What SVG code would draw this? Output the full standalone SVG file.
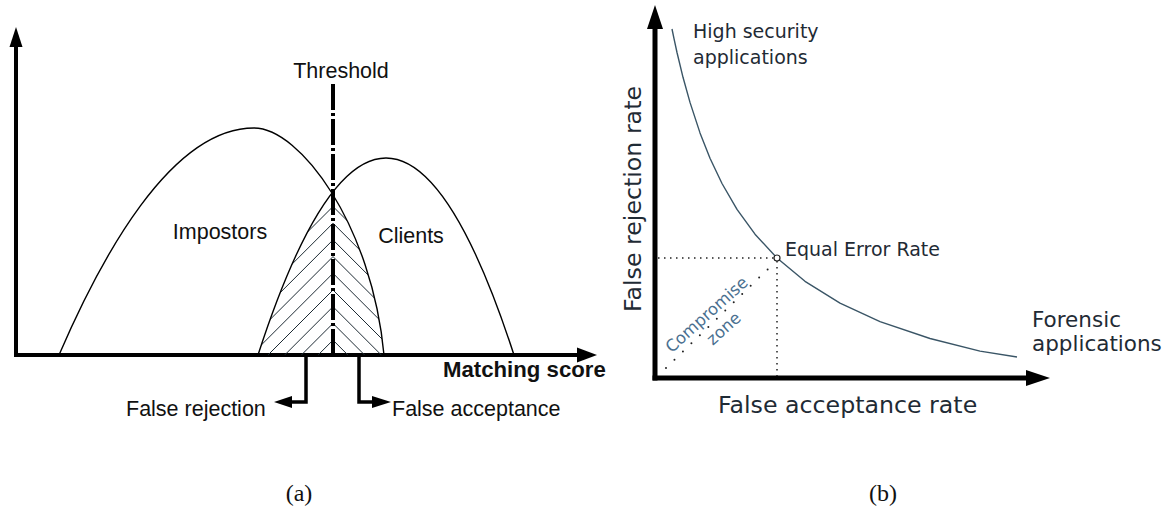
<svg xmlns="http://www.w3.org/2000/svg" width="1171" height="508" viewBox="0 0 1171 508">
<defs>
<style>
.axis{stroke:#000;fill:none;stroke-linecap:butt}
.head{fill:#000;stroke:none}
.curveA{stroke:#000;stroke-width:1.4;fill:none}
.hatch{stroke:#1d2a33;stroke-width:1}
.ta{font-family:"Liberation Sans",Arial,sans-serif;font-size:21.5px;fill:#111}
.tb{font-family:"DejaVu Sans",sans-serif;fill:#1f2b35}
.cz{font-family:"DejaVu Sans",sans-serif;font-size:16.5px;fill:#4a7090}
.cap{font-family:"Liberation Serif","Times New Roman",serif;font-size:24px;fill:#111}
.dot{stroke:#222;stroke-width:1.5;fill:none;stroke-dasharray:1.5 4.5}
</style>
<clipPath id="clipClients"><path d="M258,355 Q386,-39 514,355 Z"/></clipPath>
<clipPath id="clipImpostors"><path d="M59,355 C100,260 170,128 254,128 C300,128 372,225 384,355 Z"/></clipPath>
</defs>
<rect width="1171" height="508" fill="#fff"/>

<!-- Panel (a) -->
<g id="a-axes">
<line class="axis" x1="16" y1="45" x2="16" y2="357" stroke-width="4"/>
<polygon class="head" points="16,27 9.5,47 22.5,47"/>
<line class="axis" x1="14" y1="355" x2="579" y2="355" stroke-width="4"/>
<polygon class="head" points="597,355 577,347.5 577,362.5"/>
</g>
<g id="a-hatch">
<g clip-path="url(#clipClients)">
<path class="hatch" d="M333,206.5 l-150,150 M333,223.2 l-150,150 M333,239.9 l-150,150 M333,256.6 l-150,150 M333,273.3 l-150,150 M333,290 l-150,150 M333,306.7 l-150,150 M333,323.4 l-150,150 M333,340.1 l-150,150"/>
</g>
<g clip-path="url(#clipImpostors)">
<path class="hatch" d="M333,206.5 l150,150 M333,223.2 l150,150 M333,239.9 l150,150 M333,256.6 l150,150 M333,273.3 l150,150 M333,290 l150,150 M333,306.7 l150,150 M333,323.4 l150,150 M333,340.1 l150,150"/>
</g>
</g>
<g id="impostors">
<path class="curveA" d="M59,355 C100,260 170,128 254,128 C300,128 372,225 384,355"/>
<text class="ta" x="220" y="239" text-anchor="middle">Impostors</text>
</g>
<g id="clients">
<path class="curveA" d="M258,355 Q386,-39 514,355"/>
<text class="ta" x="411" y="243" text-anchor="middle">Clients</text>
</g>
<g id="threshold">
<line x1="333" y1="84" x2="333" y2="355" stroke="#000" stroke-width="4" stroke-dasharray="26 3 3 3"/>
<text class="ta" x="341" y="78" text-anchor="middle">Threshold</text>
</g>
<g id="matching-score">
<text class="ta" x="443" y="377" style="font-weight:bold;font-size:22.2px">Matching score</text>
</g>
<g id="connectors-a">
<polyline points="306,355 306,402 289,402" fill="none" stroke="#000" stroke-width="3.5"/>
<polygon class="head" points="274,402 292,396 292,408"/>
<polyline points="359,355 359,402 373,402" fill="none" stroke="#000" stroke-width="3.5"/>
<polygon class="head" points="391,402 372,396 372,408"/>
</g>
<g id="false-rejection">
<text class="ta" x="126" y="416">False rejection</text>
</g>
<g id="false-acceptance">
<text class="ta" x="392" y="416">False acceptance</text>
</g>
<text class="cap" x="299" y="501" text-anchor="middle">(a)</text>

<!-- Panel (b) -->
<g id="b-axes">
<line class="axis" x1="655" y1="26" x2="655" y2="380.5" stroke-width="5"/>
<polygon class="head" points="655,5 647,29 663,29"/>
<line class="axis" x1="652.5" y1="378" x2="1030" y2="378" stroke-width="5"/>
<polygon class="head" points="1050,378 1026,370 1026,386"/>
</g>
<g id="b-guides">
<line class="dot" x1="658" y1="258" x2="774" y2="258"/>
<line class="dot" x1="777" y1="261" x2="777" y2="376"/>
<line x1="666" y1="368" x2="768" y2="269" stroke="#222" stroke-width="2" stroke-linecap="round" stroke-dasharray="0 11.8"/>
</g>
<g id="det-curve">
<polyline points="672,29 674,38.7 677,52.5 683,77.3 690,102.4 700,132.9 710,158.2 722,183.5 737,209.4 755,234.2 777,258 805,281.3 840,303.1 880,321.6 930,338.5 980,351.1 1017,357" fill="none" stroke="#3a5566" stroke-width="1.4" stroke-linejoin="round"/>
</g>
<g id="eer">
<circle cx="777" cy="258" r="3" fill="#fff" stroke="#222" stroke-width="1.2"/>
<text class="tb" x="785" y="256" font-size="19">Equal Error Rate</text>
</g>
<g id="high-security">
<text class="tb" font-size="19"><tspan x="693" y="38">High security</tspan><tspan x="693" y="64">applications</tspan></text>
</g>
<g id="forensic">
<text class="tb" font-size="21.5"><tspan x="1032" y="327">Forensic</tspan><tspan x="1032" y="351">applications</tspan></text>
</g>
<g id="compromise-zone">
<text class="cz" text-anchor="middle" transform="translate(707,315) rotate(-42)" x="0" y="5">Compromise</text>
<text class="cz" text-anchor="middle" transform="translate(724,329) rotate(-42)" x="0" y="5">zone</text>
</g>
<g id="b-labels">
<text class="tb" font-size="23.7" x="718" y="413">False acceptance rate</text>
<text class="tb" font-size="23.7" text-anchor="middle" transform="translate(641,199) rotate(-90)">False rejection rate</text>
</g>
<text class="cap" x="883" y="501" text-anchor="middle">(b)</text>
</svg>
